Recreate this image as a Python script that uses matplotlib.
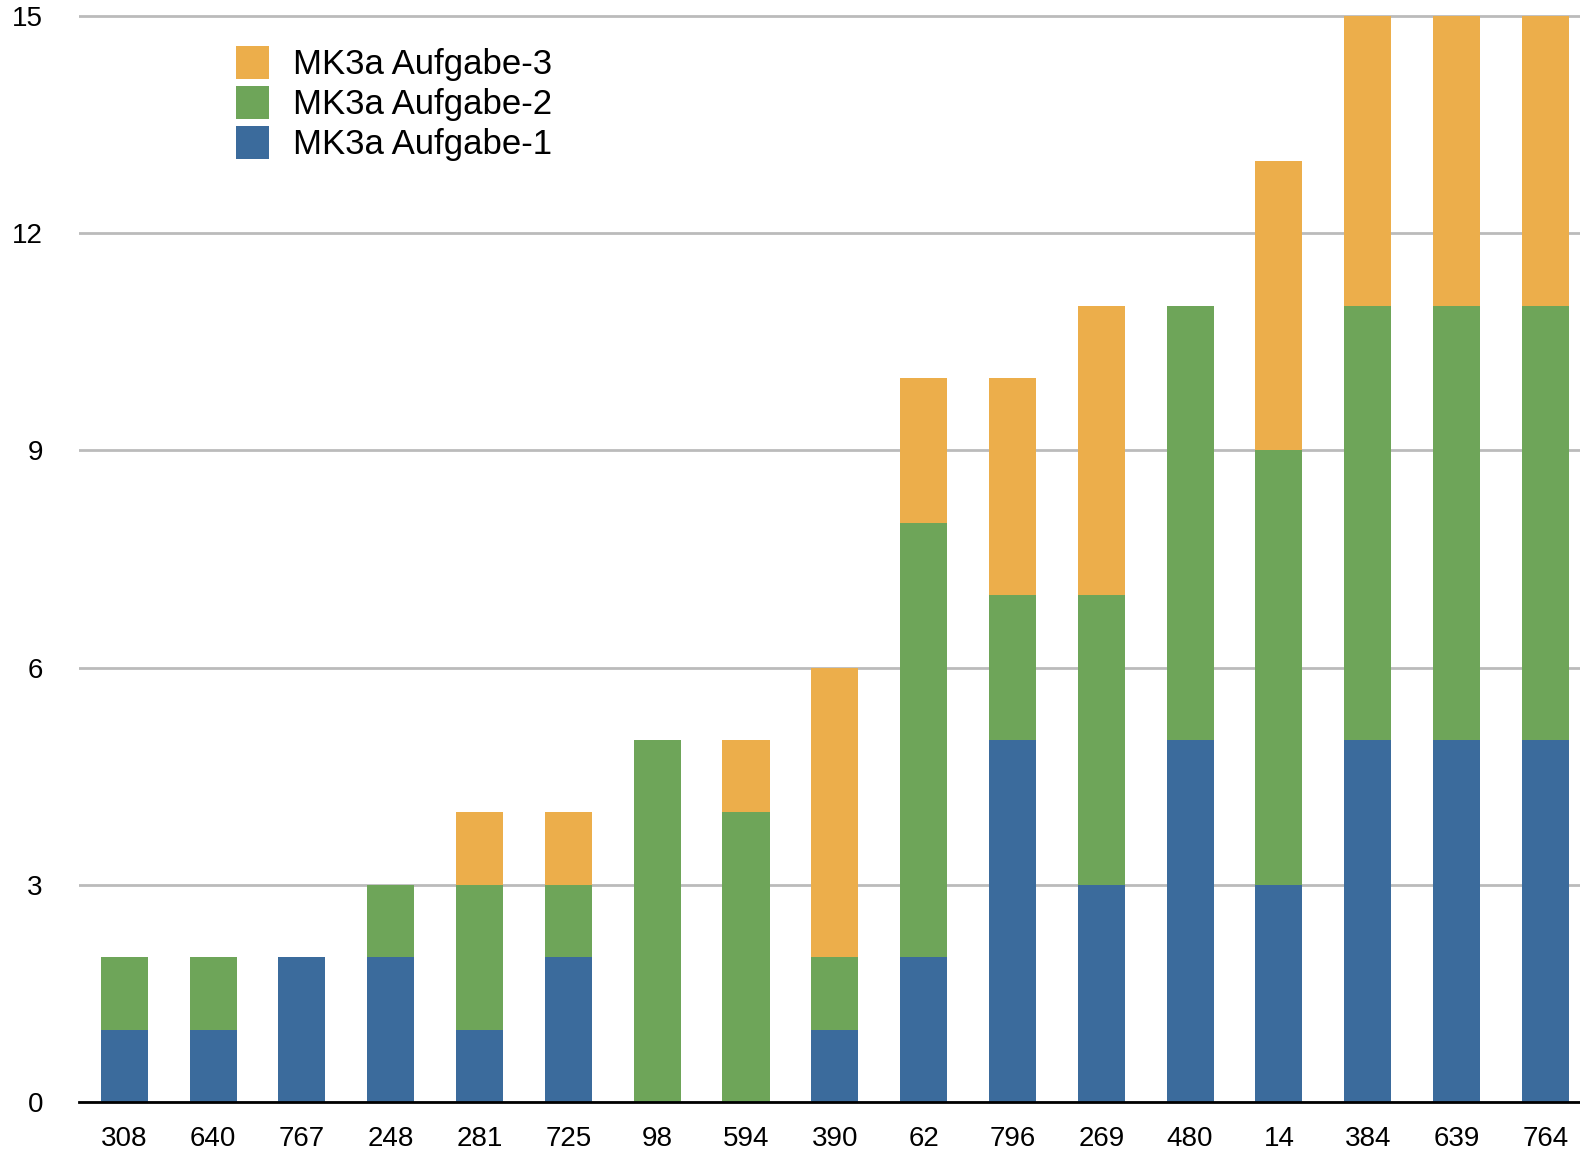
import matplotlib.pyplot as plt

# data
labels = ['308', '640', '767', '248', '281', '725', '98', '594', '390', '62',
          '796', '269', '480', '14', '384', '639', '764']
aufgabe1 = [1, 1, 2, 2, 1, 2, 0, 0, 1, 2, 5, 3, 5, 3, 5, 5, 5]
aufgabe2 = [1, 1, 0, 1, 2, 1, 5, 4, 1, 6, 2, 4, 6, 6, 6, 6, 6]
aufgabe3 = [0, 0, 0, 0, 1, 1, 0, 1, 4, 2, 3, 4, 0, 4, 4, 4, 4]
yticks = [0, 3, 6, 9, 12, 15]

plt.rcParams['font.family'] = ['Liberation Sans', 'DejaVu Sans']

fig = plt.figure(figsize=(15.8, 11.54), dpi=100)
ax = fig.add_axes([0.05, 0.045, 0.95, 0.955])

x = range(len(labels))
w = 0.53
bottom2 = aufgabe1
bottom3 = [a + b for a, b in zip(aufgabe1, aufgabe2)]

b1 = ax.bar(x, aufgabe1, width=w, color='#3B6B9C', label='MK3a Aufgabe-1', zorder=2)
b2 = ax.bar(x, aufgabe2, width=w, bottom=bottom2, color='#6EA559', label='MK3a Aufgabe-2', zorder=2)
b3 = ax.bar(x, aufgabe3, width=w, bottom=bottom3, color='#ECAE4B', label='MK3a Aufgabe-3', zorder=2)

ax.set_xlim(-0.51, 16.39)
ax.set_ylim(0, 15.22)

ax.set_yticks(yticks)
ax.set_xticks(list(x))
ax.set_xticklabels(labels)
ax.tick_params(axis='y', length=0, pad=26, labelsize=20)
ax.tick_params(axis='x', length=0, pad=17, labelsize=20)

ax.grid(axis='y', color='#BBBBBB', linewidth=2, zorder=0)
ax.set_axisbelow(True)

for s in ['left', 'right', 'top']:
    ax.spines[s].set_visible(False)
ax.spines['bottom'].set_linewidth(2)
ax.spines['bottom'].set_color('black')
ax.spines['bottom'].set_zorder(3)

ax.legend(handles=[b3, b2, b1], loc='upper left',
          bbox_to_anchor=(236 / 1580, 1 - 46 / 1154), bbox_transform=fig.transFigure,
          frameon=False, fontsize=25, borderpad=0, borderaxespad=0,
          handlelength=0.95, handleheight=1.086, handletextpad=0.69, labelspacing=0.135)

fig.savefig('out.png', dpi=100)
